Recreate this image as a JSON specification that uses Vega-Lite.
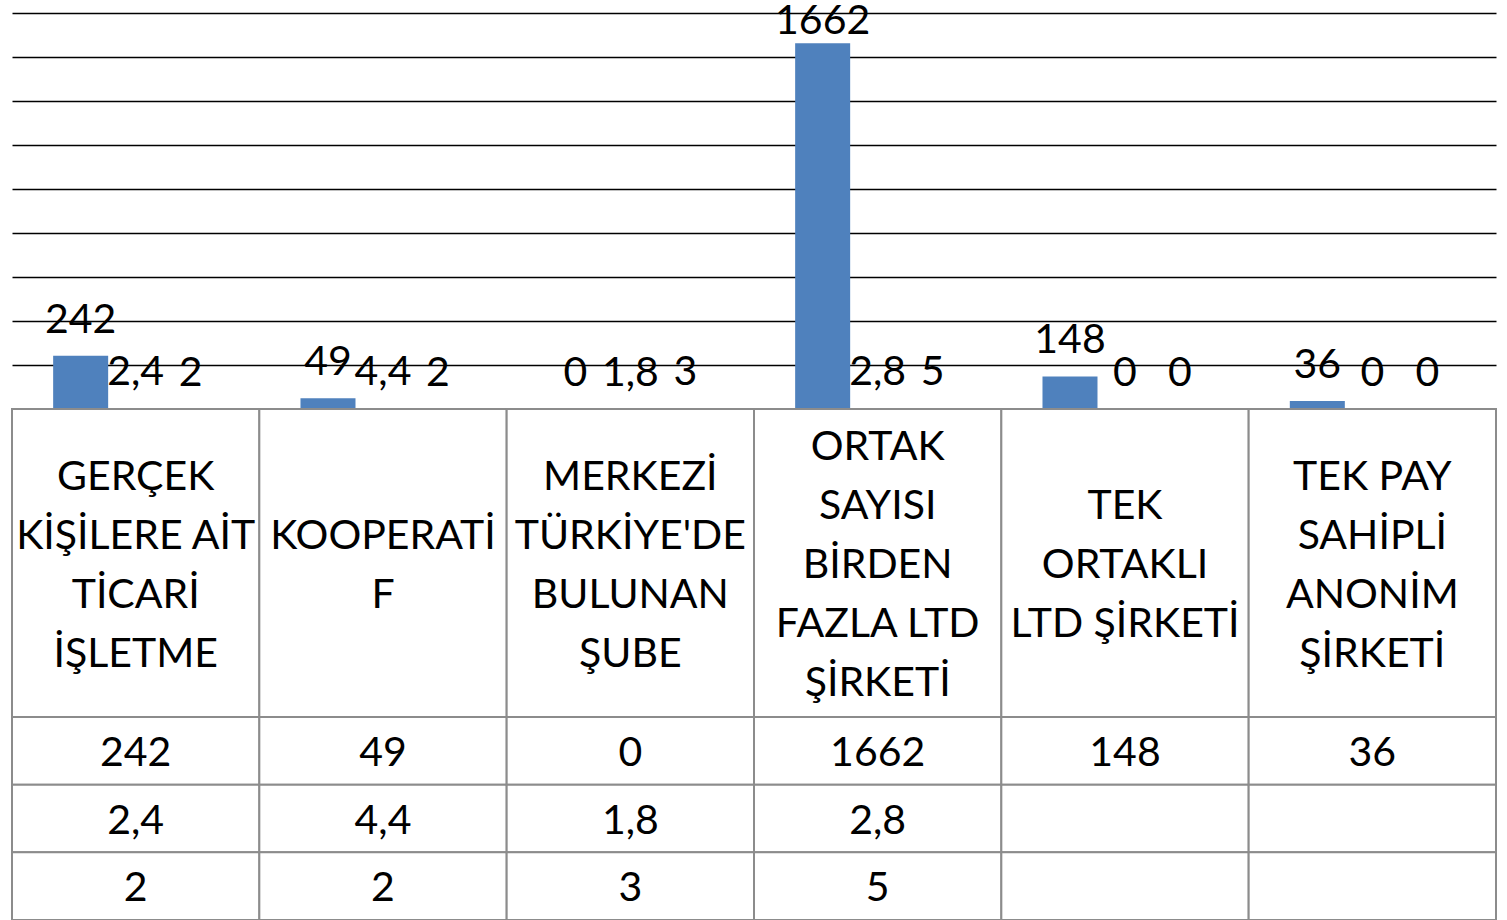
{
  "$schema": "https://vega.github.io/schema/vega-lite/v6.json",
  "padding": {"left": 11, "top": 0, "right": 10, "bottom": 0},
  "spacing": 0,
  "bounds": "flush",
  "background": "white",
  "config": {"view": {"stroke": null}, "font": "Lato", "text": {"font": "Lato", "color": "black"}, "concat": {"spacing": 0}},
  "datasets": {
    "bars": [
      {"cat": "GERÇEK KİŞİLERE AİT TİCARİ İŞLETME", "series": "Seri 1", "value": 242, "label": "242", "cell": "242"},
      {"cat": "GERÇEK KİŞİLERE AİT TİCARİ İŞLETME", "series": "Seri 2", "value": 2.4, "label": "2,4", "cell": "2,4"},
      {"cat": "GERÇEK KİŞİLERE AİT TİCARİ İŞLETME", "series": "Seri 3", "value": 2, "label": "2", "cell": "2"},
      {"cat": "KOOPERATİF", "series": "Seri 1", "value": 49, "label": "49", "cell": "49"},
      {"cat": "KOOPERATİF", "series": "Seri 2", "value": 4.4, "label": "4,4", "cell": "4,4"},
      {"cat": "KOOPERATİF", "series": "Seri 3", "value": 2, "label": "2", "cell": "2"},
      {"cat": "MERKEZİ TÜRKİYE'DE BULUNAN ŞUBE", "series": "Seri 1", "value": 0, "label": "0", "cell": "0"},
      {"cat": "MERKEZİ TÜRKİYE'DE BULUNAN ŞUBE", "series": "Seri 2", "value": 1.8, "label": "1,8", "cell": "1,8"},
      {"cat": "MERKEZİ TÜRKİYE'DE BULUNAN ŞUBE", "series": "Seri 3", "value": 3, "label": "3", "cell": "3"},
      {"cat": "ORTAK SAYISI BİRDEN FAZLA LTD ŞİRKETİ", "series": "Seri 1", "value": 1662, "label": "1662", "cell": "1662"},
      {"cat": "ORTAK SAYISI BİRDEN FAZLA LTD ŞİRKETİ", "series": "Seri 2", "value": 2.8, "label": "2,8", "cell": "2,8"},
      {"cat": "ORTAK SAYISI BİRDEN FAZLA LTD ŞİRKETİ", "series": "Seri 3", "value": 5, "label": "5", "cell": "5"},
      {"cat": "TEK ORTAKLI LTD ŞİRKETİ", "series": "Seri 1", "value": 148, "label": "148", "cell": "148"},
      {"cat": "TEK ORTAKLI LTD ŞİRKETİ", "series": "Seri 2", "value": 0, "label": "0", "cell": ""},
      {"cat": "TEK ORTAKLI LTD ŞİRKETİ", "series": "Seri 3", "value": 0, "label": "0", "cell": ""},
      {"cat": "TEK PAY SAHİPLİ ANONİM ŞİRKETİ", "series": "Seri 1", "value": 36, "label": "36", "cell": "36"},
      {"cat": "TEK PAY SAHİPLİ ANONİM ŞİRKETİ", "series": "Seri 2", "value": 0, "label": "0", "cell": ""},
      {"cat": "TEK PAY SAHİPLİ ANONİM ŞİRKETİ", "series": "Seri 3", "value": 0, "label": "0", "cell": ""}
    ],
    "cats": [
      {"cat": "GERÇEK KİŞİLERE AİT TİCARİ İŞLETME", "header": "GERÇEK|KİŞİLERE AİT|TİCARİ|İŞLETME"},
      {"cat": "KOOPERATİF", "header": "KOOPERATİ|F"},
      {"cat": "MERKEZİ TÜRKİYE'DE BULUNAN ŞUBE", "header": "MERKEZİ|TÜRKİYE'DE|BULUNAN|ŞUBE"},
      {"cat": "ORTAK SAYISI BİRDEN FAZLA LTD ŞİRKETİ", "header": "ORTAK|SAYISI|BİRDEN|FAZLA LTD|ŞİRKETİ"},
      {"cat": "TEK ORTAKLI LTD ŞİRKETİ", "header": "TEK|ORTAKLI|LTD ŞİRKETİ"},
      {"cat": "TEK PAY SAHİPLİ ANONİM ŞİRKETİ", "header": "TEK PAY|SAHİPLİ|ANONİM|ŞİRKETİ"}
    ]
  },
  "vconcat": [
    {
      "width": 1484,
      "height": 409,
      "data": {"name": "bars"},
      "layer": [
        {
          "mark": {"type": "bar"},
          "encoding": {
            "x": {"field": "cat", "type": "nominal", "sort": null, "scale": {"paddingInner": 0, "paddingOuter": 0}, "axis": null},
            "xOffset": {"field": "series", "type": "nominal", "scale": {"paddingInner": 0, "paddingOuter": 0.748}},
            "y": {"field": "value", "type": "quantitative", "scale": {"domain": [0, 1859.1], "nice": false},
                  "axis": {"values": [200, 400, 600, 800, 1000, 1200, 1400, 1600, 1800], "grid": true, "gridColor": "#000", "gridWidth": 1.6, "gridOpacity": 1, "labels": false, "ticks": false, "domain": false, "title": null}},
            "color": {"field": "series", "type": "nominal", "scale": {"range": ["#4F81BD", "#C0504D", "#9BBB59"]}, "legend": null}
          }
        },
        {
          "mark": {"type": "text", "baseline": "alphabetic", "dy": -23, "fontSize": 41, "color": "black"},
          "encoding": {
            "x": {"field": "cat", "type": "nominal", "sort": null, "axis": null},
            "xOffset": {"field": "series", "type": "nominal"},
            "y": {"field": "value", "type": "quantitative", "scale": {"domain": [0, 1598], "range": [409, 57.4], "clamp": true, "nice": false}, "axis": null},
            "text": {"field": "label"}
          }
        }
      ],
      "resolve": {"scale": {"y": "independent"}}
    },
    {
      "width": 1484,
      "height": 308,
      "data": {"name": "cats"},
      "transform": [{"calculate": "length(split(datum.header, '|'))", "as": "lines"}],
      "layer": [
        {
          "mark": {"type": "rect", "fill": "white", "stroke": "#8c8c8c", "strokeWidth": 2},
          "encoding": {
            "x": {"field": "cat", "type": "nominal", "sort": null, "scale": {"paddingInner": 0, "paddingOuter": 0}, "axis": null}
          }
        },
        {
          "transform": [{"filter": "datum.lines == 2"}],
          "mark": {"type": "text", "lineBreak": "|", "fontSize": 41, "lineHeight": 59, "baseline": "middle", "dy": -26.5, "color": "black"},
          "encoding": {"x": {"field": "cat", "type": "nominal", "sort": null, "axis": null}, "text": {"field": "header"}}
        },
        {
          "transform": [{"filter": "datum.lines == 3"}],
          "mark": {"type": "text", "lineBreak": "|", "fontSize": 41, "lineHeight": 59, "baseline": "middle", "dy": -56, "color": "black"},
          "encoding": {"x": {"field": "cat", "type": "nominal", "sort": null, "axis": null}, "text": {"field": "header"}}
        },
        {
          "transform": [{"filter": "datum.lines == 4"}],
          "mark": {"type": "text", "lineBreak": "|", "fontSize": 41, "lineHeight": 59, "baseline": "middle", "dy": -85.5, "color": "black"},
          "encoding": {"x": {"field": "cat", "type": "nominal", "sort": null, "axis": null}, "text": {"field": "header"}}
        },
        {
          "transform": [{"filter": "datum.lines == 5"}],
          "mark": {"type": "text", "lineBreak": "|", "fontSize": 41, "lineHeight": 59, "baseline": "middle", "dy": -115, "color": "black"},
          "encoding": {"x": {"field": "cat", "type": "nominal", "sort": null, "axis": null}, "text": {"field": "header"}}
        }
      ]
    },
    {
      "width": 1484,
      "height": 203,
      "data": {"name": "bars"},
      "encoding": {
        "x": {"field": "cat", "type": "nominal", "sort": null, "scale": {"paddingInner": 0, "paddingOuter": 0}, "axis": null},
        "y": {"field": "series", "type": "nominal", "scale": {"paddingInner": 0, "paddingOuter": 0}, "axis": null}
      },
      "layer": [
        {"mark": {"type": "rect", "fill": "white", "stroke": "#8c8c8c", "strokeWidth": 2}},
        {"mark": {"type": "text", "fontSize": 41, "baseline": "middle", "dy": 3, "color": "black"}, "encoding": {"text": {"field": "cell"}}}
      ]
    }
  ]
}
